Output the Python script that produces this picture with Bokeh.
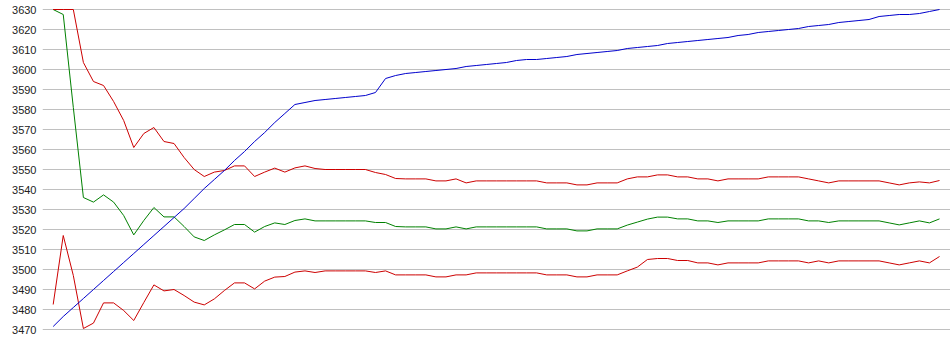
from bokeh.plotting import figure
from bokeh.models import Range1d, FixedTicker, ColumnDataSource
from bokeh.embed import file_html
from bokeh.resources import INLINE

# ---- data ----
y_ticks = [3470, 3480, 3490, 3500, 3510, 3520, 3530, 3540, 3550, 3560,
           3570, 3580, 3590, 3600, 3610, 3620, 3630]

blue = [3471.5, 3476.5, 3481, 3485.5, 3490, 3494.5, 3499, 3503.5, 3508, 3512.5,
        3517, 3521.5, 3526, 3530.5, 3535.5, 3540.5, 3545, 3549.5, 3554.5, 3559,
        3564, 3568.5, 3573.5, 3578, 3582.5, 3583.5, 3584.5, 3585, 3585.5, 3586,
        3586.5, 3587, 3588.5, 3595.5, 3597, 3598, 3598.5, 3599, 3599.5, 3600,
        3600.5, 3601.5, 3602, 3602.5, 3603, 3603.5, 3604.5, 3605, 3605, 3605.5,
        3606, 3606.5, 3607.5, 3608, 3608.5, 3609, 3609.5, 3610.5, 3611, 3611.5,
        3612, 3613, 3613.5, 3614, 3614.5, 3615, 3615.5, 3616, 3617, 3617.5,
        3618.5, 3619, 3619.5, 3620, 3620.5, 3621.5, 3622, 3622.5, 3623.5, 3624,
        3624.5, 3625, 3626.5, 3627, 3627.5, 3627.5, 3628, 3629, 3630]

red_upper = [3630, 3630, 3630, 3603.5, 3594, 3592, 3584, 3574.5, 3561, 3568,
             3571, 3564, 3563, 3556, 3550, 3546.5, 3548.7, 3549.5, 3551.8, 3551.8,
             3546.5, 3548.7, 3550.7, 3548.7, 3550.8, 3551.8, 3550.5, 3550, 3550, 3550,
             3550, 3550, 3548.5, 3547.5, 3545.5, 3545.3, 3545.3, 3545.3, 3544.3, 3544.3,
             3545.3, 3543.3, 3544.3, 3544.3, 3544.3, 3544.3, 3544.3, 3544.3, 3544.3, 3543.3,
             3543.3, 3543.3, 3542.3, 3542.3, 3543.3, 3543.3, 3543.3, 3545.3, 3546.3, 3546.3,
             3547.3, 3547.3, 3546.3, 3546.3, 3545.3, 3545.3, 3544.3, 3545.3, 3545.3, 3545.3,
             3545.3, 3546.3, 3546.3, 3546.3, 3546.3, 3545.3, 3544.3, 3543.3, 3544.3, 3544.3,
             3544.3, 3544.3, 3544.3, 3543.3, 3542.3, 3543.3, 3543.8, 3543.3, 3544.5]

green = [3630, 3627.5, 3581, 3536, 3533.7, 3537.3, 3533.7, 3527, 3517.3, 3524.5,
         3531, 3526.3, 3526.3, 3521.5, 3516.3, 3514.5, 3517.3, 3519.8, 3522.5, 3522.5,
         3518.7, 3521.5, 3523.3, 3522.5, 3524.5, 3525.3, 3524.3, 3524.3, 3524.3, 3524.3,
         3524.3, 3524.3, 3523.5, 3523.5, 3521.5, 3521.3, 3521.3, 3521.3, 3520.3, 3520.3,
         3521.3, 3520.3, 3521.3, 3521.3, 3521.3, 3521.3, 3521.3, 3521.3, 3521.3, 3520.3,
         3520.3, 3520.3, 3519.3, 3519.3, 3520.3, 3520.3, 3520.3, 3522.2, 3523.7, 3525.2,
         3526.2, 3526.2, 3525.3, 3525.3, 3524.3, 3524.3, 3523.5, 3524.3, 3524.3, 3524.3,
         3524.3, 3525.3, 3525.3, 3525.3, 3525.3, 3524.3, 3524.3, 3523.5, 3524.3, 3524.3,
         3524.3, 3524.3, 3524.3, 3523.3, 3522.3, 3523.3, 3524.3, 3523.3, 3525.3]

red_lower = [3482.5, 3517, 3497, 3470.5, 3473.2, 3483.3, 3483.3, 3479.5, 3474.5, 3483.5,
             3492.3, 3489.3, 3490, 3487, 3483.7, 3482.3, 3485.3, 3489.5, 3493.3, 3493.3,
             3490.3, 3494.2, 3496.2, 3496.5, 3498.7, 3499.3, 3498.5, 3499.3, 3499.3, 3499.3,
             3499.3, 3499.3, 3498.5, 3499.3, 3497.3, 3497.3, 3497.3, 3497.3, 3496.3, 3496.3,
             3497.3, 3497.3, 3498.3, 3498.3, 3498.3, 3498.3, 3498.3, 3498.3, 3498.3, 3497.3,
             3497.3, 3497.3, 3496.3, 3496.3, 3497.3, 3497.3, 3497.3, 3499.3, 3501.2, 3505,
             3505.5, 3505.5, 3504.5, 3504.5, 3503.3, 3503.3, 3502.3, 3503.3, 3503.3, 3503.3,
             3503.3, 3504.3, 3504.3, 3504.3, 3504.3, 3503.3, 3504.3, 3503.3, 3504.3, 3504.3,
             3504.3, 3504.3, 3504.3, 3503.3, 3502.3, 3503.3, 3504.3, 3503.3, 3506.5]

idx = list(range(len(blue)))

src = ColumnDataSource(dict(x=idx, blue=blue, red_upper=red_upper,
                            green=green, red_lower=red_lower))

p = figure(width=950, height=355, output_backend="svg", toolbar_location=None,
           x_range=Range1d(-1.06, 89.09), y_range=Range1d(3469.5, 3630.5),
           min_border_left=42, min_border_right=0, min_border_top=8,
           min_border_bottom=25)

p.outline_line_color = None
p.background_fill_color = "white"
p.border_fill_color = "white"

p.xaxis.visible = False
p.xgrid.grid_line_color = None
p.ygrid.grid_line_color = "#c0c0c0"
p.ygrid.grid_line_width = 1

p.yaxis.ticker = FixedTicker(ticks=y_ticks)
p.yaxis.axis_line_color = None
p.yaxis.major_tick_line_color = None
p.yaxis.minor_tick_line_color = None
p.yaxis.major_tick_out = 0
p.yaxis.major_tick_in = 0
p.yaxis.major_label_standoff = 6
p.yaxis.major_label_text_font = "Liberation Sans"
p.yaxis.major_label_text_font_size = "11px"
p.yaxis.major_label_text_color = "#222222"

p.line("x", "green", source=src, line_color="#008000", line_width=1)
p.line("x", "red_lower", source=src, line_color="#cc0000", line_width=1)
p.line("x", "red_upper", source=src, line_color="#cc0000", line_width=1)
p.line("x", "blue", source=src, line_color="#0000cc", line_width=1)

open("out.html", "w").write(file_html(p, INLINE))
